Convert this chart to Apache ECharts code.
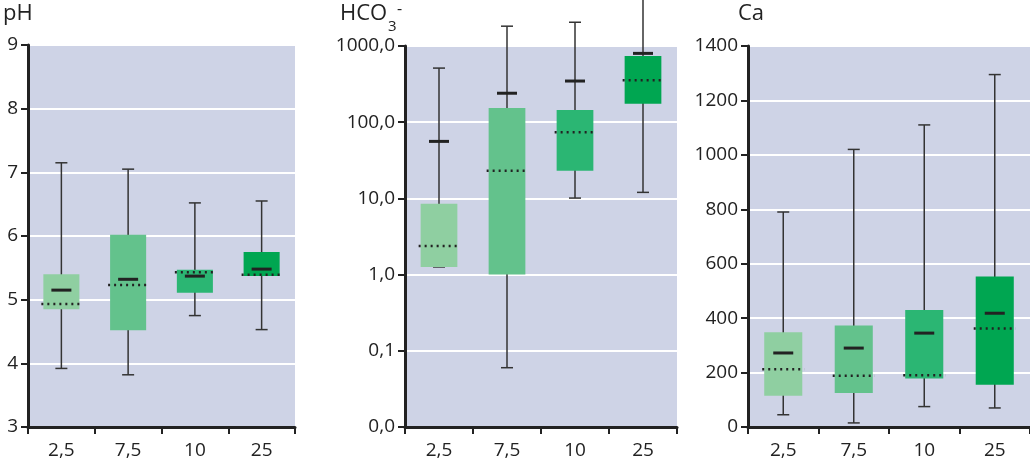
<!DOCTYPE html>
<html><head><meta charset="utf-8">
<script src="https://cdn.jsdelivr.net/npm/echarts@6/dist/echarts.min.js"></script>
<style>html,body{margin:0;padding:0;background:#fff}#c{width:1030px;height:462px}</style>
</head><body><div id="c"></div>
<script>
const categories = ['2,5','7,5','10','25'];
const colors = ['#8fcfa1','#63c28c','#2bb673','#00a651'];
// [min, q1, median, mean, q3, max]
const phStats = [[3.92,4.85,4.93,5.15,5.40,7.15],[3.82,4.52,5.23,5.32,6.02,7.05],[4.75,5.11,5.43,5.37,5.47,6.52],[4.53,5.37,5.39,5.48,5.75,6.55]];
const hco3Stats = [[1.26,1.26,2.37,56,8.5,513],[0.06,1.0,23,240,154,1820],[10.1,23,74,347,145,2050],[12,174,355,800,740,4200]];
const caStats = [[45,115,212,272,348,790],[15,125,188,290,373,1020],[75,178,190,345,430,1110],[70,155,362,418,553,1295]];

const FF = '"Open Sans", Lato, sans-serif';
const grids = [
  {left:28, width:267, top:45, height:382},
  {left:405, width:272, top:46, height:381},
  {left:748, width:282, top:46, height:381}
];
const labelFont = {fontFamily:FF, fontSize:19, color:'#222'};
function xAxis(i){return {type:'category', gridIndex:i, data:categories, boundaryGap:true,
  axisLine:{lineStyle:{color:'#222',width:3}}, axisTick:{show:true,inside:false,length:7,lineStyle:{color:'#222',width:2}},
  axisLabel:Object.assign({margin:14},labelFont)};}
function yBase(i){return {gridIndex:i, axisLine:{show:true,lineStyle:{color:'#222',width:3}},
  axisTick:{show:true,length:7,lineStyle:{color:'#222',width:2}},
  splitLine:{show:true,lineStyle:{color:'#fff',width:2}},
  axisLabel:Object.assign({margin:10},labelFont)};}
function renderBox(params, api){
  const i = api.value(0);
  const v = [1,2,3,4,5,6].map(k=>api.value(k));
  const x = api.coord([i, v[0]])[0];
  const band = api.size([1,0])[0];
  const bw = band*0.54, cap = 12, mw = 20;
  const y = v.map(val=>api.coord([i,val])[1]);
  const c = colors[i];
  return {type:'group', children:[
    {type:'line', shape:{x1:x,y1:y[0],x2:x,y2:y[5]}, style:{stroke:'#333',lineWidth:1.5}},
    {type:'line', shape:{x1:x-cap/2,y1:y[0],x2:x+cap/2,y2:y[0]}, style:{stroke:'#333',lineWidth:1.5}},
    {type:'line', shape:{x1:x-cap/2,y1:y[5],x2:x+cap/2,y2:y[5]}, style:{stroke:'#333',lineWidth:1.5}},
    {type:'rect', shape:{x:x-bw/2,y:y[4],width:bw,height:y[1]-y[4]}, style:{fill:c}},
    {type:'line', shape:{x1:x-bw/2-2,y1:y[2],x2:x+bw/2+2,y2:y[2]}, style:{stroke:'#222',lineWidth:2.5,lineDash:[2,4]}},
    {type:'line', shape:{x1:x-mw/2,y1:y[3],x2:x+mw/2,y2:y[3]}, style:{stroke:'#222',lineWidth:3}}
  ]};
}
function series(i, stats){return {type:'custom', xAxisIndex:i, yAxisIndex:i, clip:false, renderItem:renderBox,
  encode:{x:0,y:[1,2,3,4,5,6]}, data:stats.map((s,k)=>[k].concat(s))};}
const option = {
  animation:false,
  backgroundColor:'#fff',
  grid: grids.map(g=>Object.assign({show:true, backgroundColor:'#ced3e6', borderWidth:0},g)),
  xAxis:[xAxis(0),xAxis(1),xAxis(2)],
  yAxis:[
    Object.assign(yBase(0),{type:'value',min:3,max:9,interval:1}),
    Object.assign(yBase(1),{type:'log',min:0.01,max:1000,logBase:10,
      axisLabel:Object.assign({margin:10,formatter:v=>v.toFixed(1).replace('.',',')},labelFont)}),
    Object.assign(yBase(2),{type:'value',min:0,max:1400,interval:200,
      axisLabel:Object.assign({margin:10,formatter:v=>String(v)},labelFont)})
  ],
  graphic:[
    {type:'text', left:3, top:3, style:{text:'pH', font:'22px '+FF, fill:'#222'}},
    {type:'text', left:340, top:3, style:{text:'HCO', font:'22px '+FF, fill:'#222'}},
    {type:'text', left:388, top:19, style:{text:'3', font:'15px '+FF, fill:'#222'}},
    {type:'text', left:397, top:1, style:{text:'-', font:'16px '+FF, fill:'#222'}},
    {type:'text', left:738, top:3, style:{text:'Ca', font:'22px '+FF, fill:'#222'}}
  ],
  series:[series(0,phStats),series(1,hco3Stats),series(2,caStats)]
};
const chart = echarts.init(document.getElementById('c'),null,{renderer:'canvas'});
chart.setOption(option);
</script></body></html>
